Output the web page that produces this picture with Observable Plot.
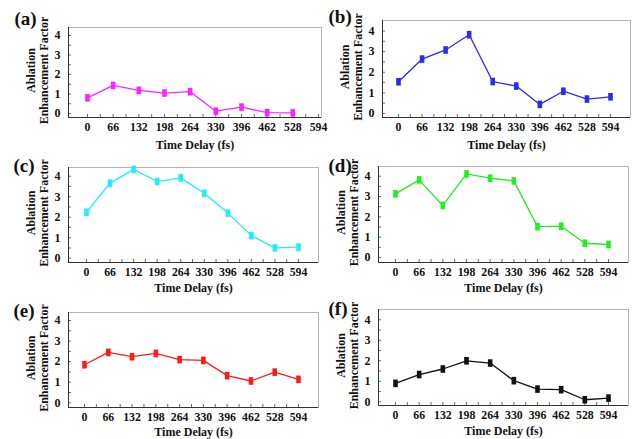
<!DOCTYPE html>
<html>
<head>
<meta charset="utf-8">
<script src="https://cdn.jsdelivr.net/npm/d3@7"></script>
<script src="https://cdn.jsdelivr.net/npm/@observablehq/plot@0.6"></script>
<style>
  html, body { margin: 0; padding: 0; background: #fff; }
  #wrap { position: relative; width: 634px; height: 439px; overflow: hidden; background: #fff; }
  #wrap svg { position: absolute; left: 0; top: 0; }
</style>
</head>
<body>
<div id="wrap"></div>
<script>
// ---- data ----
const timeDelays = [0, 66, 132, 198, 264, 330, 396, 462, 528, 594];
const yTicks = [0, 1, 2, 3, 4];
const panelLabels = ["(a)", "(b)", "(c)", "(d)", "(e)", "(f)"];
const xTitle = "Time Delay (fs)";
const yTitle = "Ablation\nEnhancement Factor";
const seriesA = [0.80, 1.44, 1.19, 1.05, 1.12, 0.12, 0.33, 0.04, 0.03, null];
const seriesB = [1.54, 2.64, 3.08, 3.82, 1.55, 1.33, 0.44, 1.08, 0.70, 0.81];
const seriesC = [2.24, 3.66, 4.33, 3.74, 3.92, 3.17, 2.20, 1.10, 0.50, 0.54];
const seriesD = [3.13, 3.82, 2.56, 4.11, 3.90, 3.77, 1.52, 1.54, 0.70, 0.64];
const seriesE = [1.85, 2.45, 2.24, 2.40, 2.10, 2.06, 1.32, 1.06, 1.49, 1.14];
const seriesF = [0.90, 1.33, 1.60, 2.00, 1.89, 1.03, 0.62, 0.59, 0.10, 0.18];
const seriesColors = ["#ff22ff", "#2b2bf0", "#22eeff", "#22ee22", "#ff1a1a", "#111111"];
const allSeries = [seriesA, seriesB, seriesC, seriesD, seriesE, seriesF];

// ---- layout (page pixels) ----
const W = 634, H = 439;
const layout = [
  {l: 68,  r: 321, t: 27,  b: 117, x0: 87,  x1: 318, y0: 113,   y4: 35,    lx: 14,  ly: 18,    td: 27.5},
  {l: 382, r: 630, t: 20,  b: 117, x0: 398, x1: 610, y0: 113,   y4: 30.5,  lx: 328, ly: 16.5,  td: 27.5},
  {l: 68,  r: 318, t: 167, b: 262, x0: 86,  x1: 298, y0: 257.7, y4: 175.7, lx: 13,  ly: 165,   td: 26},
  {l: 378, r: 628, t: 166, b: 262, x0: 395, x1: 608, y0: 257,   y4: 175.7, lx: 328, ly: 165,   td: 26},
  {l: 68,  r: 318, t: 312, b: 407, x0: 84,  x1: 298, y0: 402.3, y4: 320,   lx: 13,  ly: 310,   td: 25},
  {l: 378, r: 628, t: 309, b: 405, x0: 395, x1: 608, y0: 401.3, y4: 319.3, lx: 328, ly: 308.5, td: 26}
];

const rectSymbol = {
  draw(ctx) { ctx.rect(-2.3, -3.8, 4.6, 7.6); }
};

const font = "'Liberation Serif', 'DejaVu Serif', serif";
const wrap = document.getElementById("wrap");

allSeries.forEach((vals, i) => {
  const L = layout[i];
  const xPer = 594 / (L.x1 - L.x0);
  const yPer = 4 / (L.y0 - L.y4);
  const xDom = [(L.l - L.x0) * xPer, (L.r - L.x0) * xPer];
  const yDom = [-(L.b - L.y0) * yPer, (L.y0 - L.t) * yPer];
  const boxW = L.r - L.l, boxH = L.b - L.t;
  const data = timeDelays.map((t, k) => ({t, v: vals[k]}));
  const pts = data.filter(d => d.v != null);
  const minorX = d3.range(0, 595, 33);
  const minorY = d3.range(0, 4.01, 0.5);
  const color = seriesColors[i];

  const chart = Plot.plot({
    width: W, height: H,
    marginLeft: L.l, marginRight: W - L.r, marginTop: L.t, marginBottom: H - L.b,
    x: {domain: xDom},
    y: {domain: yDom},
    style: {background: "transparent", fontFamily: font, fontWeight: "bold", fontSize: "12px", color: "#111", overflow: "visible"},
    marks: [
      Plot.frame({stroke: "#b5b5b5", strokeWidth: 1}),
      Plot.ruleX(minorX, {x: d => d, insetTop: boxH - 3, stroke: "#444", strokeWidth: 0.8}),
      Plot.ruleY(minorY, {y: d => d, insetRight: boxW - 3, stroke: "#444", strokeWidth: 0.8}),
      Plot.ruleX([xDom[0]], {stroke: "#333", strokeWidth: 1}),
      Plot.ruleY([yDom[0]], {stroke: "#333", strokeWidth: 1}),
      Plot.axisX(timeDelays, {tickSize: 0, tickPadding: 5, label: null, fontSize: 11.8, fontWeight: "bold"}),
      Plot.axisY(yTicks, {tickSize: 0, tickPadding: 8, label: null, fontSize: 12, fontWeight: "bold"}),
      Plot.line(data, {x: "t", y: "v", stroke: color, strokeWidth: 1.3}),
      Plot.dot(pts, {x: "t", y: "v", fill: color, stroke: null, symbol: rectSymbol, r: 3}),
      Plot.text([xTitle], {frameAnchor: "bottom", dy: L.td, text: d => d, fontSize: 12, fontWeight: "bold", lineAnchor: "middle"}),
      Plot.text([yTitle], {frameAnchor: "left", dx: -31.5, dy: -2, rotate: -90, text: d => d, fontSize: 12, fontWeight: "bold", lineHeight: 1.1, lineAnchor: "middle", textAnchor: "middle"}),
      Plot.text([panelLabels[i]], {frameAnchor: "top-left", dx: L.lx - L.l, dy: L.ly - L.t, text: d => d, fontSize: 19, fontWeight: "bold", textAnchor: "start", lineAnchor: "middle"})
    ]
  });
  wrap.appendChild(chart);
});
</script>
</body>
</html>
